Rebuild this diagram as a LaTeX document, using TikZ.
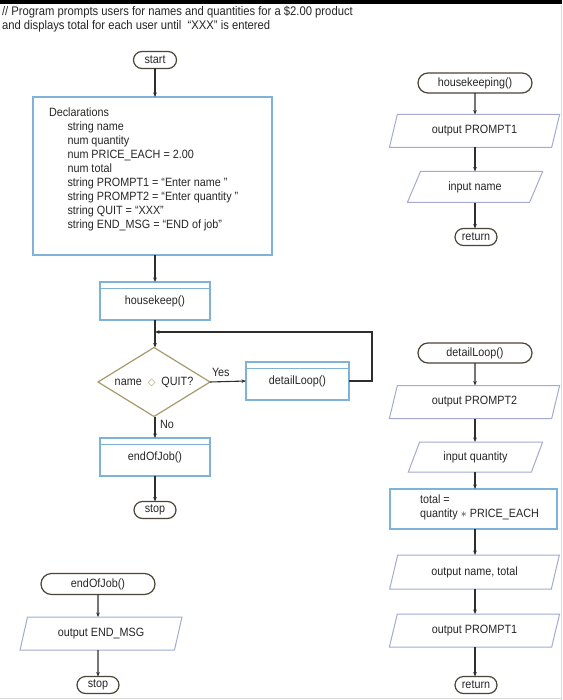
\documentclass[tikz,border=0pt]{standalone}
\usepackage{fontspec}
\setmainfont{Liberation Sans}[FakeStretch=0.9]
\newfontfamily\symfont{DejaVu Sans}
\usetikzlibrary{shapes.geometric,shapes.misc,arrows.meta,calc}
\definecolor{termc}{HTML}{4A4538}
\definecolor{boxc}{HTML}{7EB2DA}
\definecolor{ioc}{HTML}{A3ABD3}
\definecolor{decc}{HTML}{A89A6A}
\definecolor{arrc}{HTML}{2E2E2E}
\newcommand\fs{\fontsize{12}{14}\selectfont}
\begin{document}
\begin{tikzpicture}[x=1pt,y=-1pt,
  base/.style={font=\fs, inner sep=0pt, outer sep=0pt, text=black!85},
  term/.style={base, rounded rectangle, draw=termc, line width=1.2pt, fill=white},
  proc/.style={base, rectangle, draw=boxc, line width=1.3pt},
  pred/.style={proc, path picture={\draw[boxc, line width=1.2pt]
      ([yshift=-6.5pt]path picture bounding box.north west) --
      ([yshift=-6.5pt]path picture bounding box.north east);}},
  outp/.style={base, trapezium, trapezium stretches=true,
      trapezium left angle=68, trapezium right angle=112, draw=ioc, line width=1pt},
  inp/.style={base, trapezium, trapezium stretches=true,
      trapezium left angle=60, trapezium right angle=120, draw=ioc, line width=1pt},
  dec/.style={base, diamond, aspect=1.62, draw=decc, line width=1.2pt},
  arr/.style={draw=arrc, line width=1.1pt, -{Stealth[length=4.5pt,width=3.6pt]}},
  lbl/.style={base}
]
\useasboundingbox (0,0) rectangle (562,700);
\fill[white] (0,0) rectangle (562,700);
\fill[black] (0,0) rectangle (562,4);
\draw[black!15, line width=0.8pt] (561,5) -- (561,700);
\draw[black!15, line width=0.8pt] (0,698.5) -- (562,698.5);

% title
\node[base, anchor=north west, align=left, font=\fontsize{12.5}{14.5}\selectfont] (title) at (2,6)
  {// Program prompts users for names and quantities for a \$2.00 product\\
   and displays total for each user until~ “XXX” is entered};

% left main flow
\node[term, minimum width=43pt, minimum height=17pt] (start) at (155,60) {start};
\node[proc, minimum width=239pt, minimum height=158pt] (decl) at (152.5,176) {};
\node[base, anchor=north west, align=left, font=\fontsize{12}{14}\selectfont] (decltext) at (49,107.5)
  {Declarations\\
   \hspace*{18.5pt}string name\\
   \hspace*{18.5pt}num quantity\\
   \hspace*{18.5pt}num PRICE\_EACH = 2.00\\
   \hspace*{18.5pt}num total\\
   \hspace*{18.5pt}string PROMPT1 = “Enter name ”\\
   \hspace*{18.5pt}string PROMPT2 = “Enter quantity ”\\
   \hspace*{18.5pt}string QUIT = “XXX”\\
   \hspace*{18.5pt}string END\_MSG = “END of job”};
\node[pred, minimum width=110pt, minimum height=38pt] (hkeep) at (155,301) {housekeep()};
\coordinate (loopin) at (155,332);
\node[dec, minimum width=112pt, minimum height=69pt] (dia) at (154,382)
  {name\hspace{6pt}\textcolor{decc}{\symfont\fontsize{10}{10}\selectfont ◇}\hspace{6pt}QUIT?};
\node[pred, minimum width=103pt, minimum height=38pt] (detail) at (297.5,381) {detailLoop()};
\node[lbl, anchor=base west] (yes) at (212,376) {Yes};
\node[lbl, anchor=base west] (no) at (160,428) {No};
\node[pred, minimum width=110pt, minimum height=38pt] (endjob) at (155,457) {endOfJob()};
\node[term, minimum width=42pt, minimum height=17pt] (stop) at (155,510) {stop};

\draw[arr] (start) -- (start |- decl.north);
\draw[arr] (start |- decl.south) -- (hkeep);
\draw[arr] (hkeep) -- (hkeep |- dia.north);
\draw[arr] (detail.east) -- ++(23,0) |- (loopin);
\draw[arr] (dia.east) -- (detail.west);
\draw[arr] (hkeep |- dia.south) -- (endjob);
\draw[arr] (endjob) -- (stop);

% housekeeping module
\node[term, minimum width=114pt, minimum height=20pt] (hk) at (475,83) {housekeeping()};
\node[outp, minimum width=171pt, minimum height=33pt] (op1) at (474.5,131) {output PROMPT1};
\node[inp, minimum width=136pt, minimum height=31pt] (inname) at (475,187) {input name};
\node[term, minimum width=42pt, minimum height=17pt] (ret1) at (476,237) {return};
\draw[arr] (hk) -- (hk |- op1.north);
\draw[arr] (hk |- op1.south) -- (hk |- inname.north);
\draw[arr] (hk |- inname.south) -- (hk |- ret1.north);

% detail loop module
\node[term, minimum width=114pt, minimum height=20pt] (dl) at (475,353) {detailLoop()};
\node[outp, minimum width=171pt, minimum height=33pt] (op2) at (474.5,402) {output PROMPT2};
\node[inp, minimum width=135pt, minimum height=30pt] (inq) at (475.5,457) {input quantity};
\node[proc, minimum width=167pt, minimum height=40pt] (total) at (473.5,509) {};
\node[base, anchor=north west, align=left] (totaltext) at (420,494.5)
  {total =\\quantity $\ast$ PRICE\_EACH};
\node[outp, minimum width=171pt, minimum height=34pt] (opnt) at (474.5,572) {output name, total};
\node[outp, minimum width=171pt, minimum height=33pt] (op1b) at (474.5,630.5) {output PROMPT1};
\node[term, minimum width=42pt, minimum height=17pt] (ret2) at (476,685) {return};
\draw[arr] (dl) -- (dl |- op2.north);
\draw[arr] (dl |- op2.south) -- (dl |- inq.north);
\draw[arr] (dl |- inq.south) -- (dl |- total.north);
\draw[arr] (dl |- total.south) -- (dl |- opnt.north);
\draw[arr] (dl |- opnt.south) -- (dl |- op1b.north);
\draw[arr] (dl |- op1b.south) -- (dl |- ret2.north);

% end of job module
\node[term, minimum width=114pt, minimum height=21pt] (ej2) at (98,584) {endOfJob()};
\node[outp, minimum width=162pt, minimum height=33pt] (oem) at (101,633.5) {output END\_MSG};
\node[term, minimum width=42pt, minimum height=17pt] (stop2) at (98,685) {stop};
\draw[arr] (ej2) -- (ej2 |- oem.north);
\draw[arr] (ej2 |- oem.south) -- (stop2);
\end{tikzpicture}
\end{document}
